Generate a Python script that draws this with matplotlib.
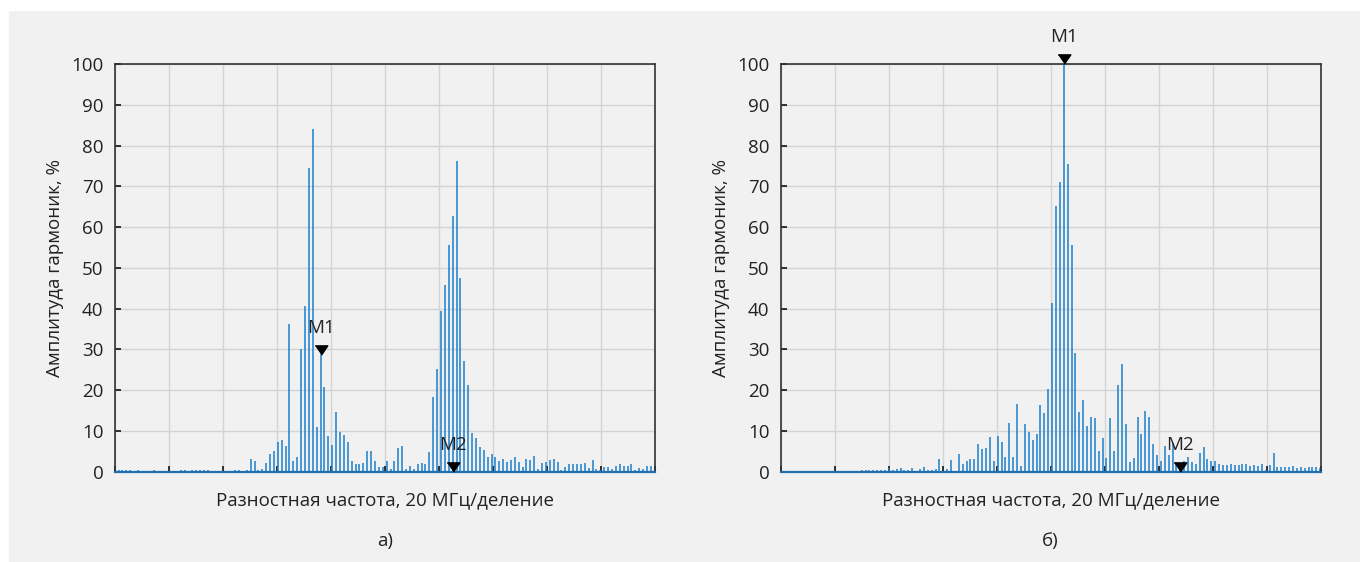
import numpy as np
import matplotlib
matplotlib.use('Agg')
import matplotlib.pyplot as plt
from matplotlib.transforms import offset_copy

# амплитуды гармоник, % (по номеру линии спектра), рисунок а)
amp_a = [0.1, 0.4, 0.4, 0.4, 0.4, 0.1, 0.4, 0.1, 0.1, 0.1,
         0.4, 0.1, 0.1, 0.1, 0.1, 0.1, 0.1, 0.4, 0.4, 0.1,
         0.4, 0.4, 0.4, 0.4, 0.4, 0.1, 0.1, 0.1, 0.1, 0.1,
         0.1, 0.4, 0.4, 0.1, 0.5, 3.1, 2.7, 0.4, 0.7, 2.1,
         4.4, 5.1, 7.3, 7.8, 6.3, 36.2, 2.6, 3.6, 30.2, 40.7,
         74.5, 84.0, 11.0, 28.8, 20.7, 8.8, 6.5, 14.6, 9.8, 8.9,
         7.4, 2.6, 2.0, 2.0, 2.2, 5.1, 5.1, 2.5, 1.1, 1.1,
         2.6, 0.7, 2.6, 5.7, 6.3, 0.7, 1.5, 0.7, 1.8, 2.2,
         1.9, 4.9, 18.4, 25.1, 39.3, 45.7, 55.5, 62.8, 76.1, 47.5,
         27.1, 21.2, 9.6, 8.3, 6.0, 5.3, 3.7, 4.3, 3.7, 2.6,
         3.1, 2.3, 2.9, 3.5, 2.3, 1.2, 3.1, 2.9, 3.8, 0.7,
         2.1, 2.3, 2.9, 3.1, 2.3, 0.4, 1.2, 1.9, 1.9, 1.8,
         2.0, 2.2, 0.8, 2.9, 0.7, 0.5, 1.2, 1.2, 0.7, 1.5,
         1.8, 1.5, 1.5, 1.8, 0.4, 0.8, 0.7, 1.5, 1.5, 1.3]

# рисунок б)
amp_b = [0.1, 0.1, 0.1, 0.1, 0.1, 0.1, 0.1, 0.1, 0.1, 0.1,
         0.1, 0.1, 0.1, 0.1, 0.2, 0.1, 0.2, 0.1, 0.1, 0.1,
         0.3, 0.3, 0.4, 0.4, 0.5, 0.4, 0.5, 0.8, 0.3, 0.7,
         1.0, 0.5, 0.4, 0.9, 0.2, 0.6, 1.1, 0.3, 0.3, 0.6,
         3.1, 0.2, 0.7, 2.9, 0.2, 4.4, 2.0, 2.5, 3.1, 3.1,
         6.8, 5.6, 5.7, 8.5, 2.5, 8.8, 7.4, 3.5, 11.9, 3.5,
         16.7, 1.4, 11.8, 9.8, 7.8, 9.3, 16.3, 14.3, 20.4, 41.5,
         65.2, 71.0, 100.0, 75.5, 55.7, 29.0, 14.7, 17.6, 11.3, 13.4,
         13.1, 5.1, 8.3, 3.3, 13.1, 5.1, 21.3, 26.3, 11.6, 2.3,
         3.3, 13.4, 9.2, 15.0, 13.4, 6.9, 4.1, 2.5, 6.3, 4.1,
         7.0, 2.0, 1.0, 2.5, 3.5, 2.3, 2.0, 4.7, 6.0, 3.1,
         2.7, 2.5, 2.0, 1.6, 1.6, 2.0, 1.6, 1.6, 2.0, 2.0,
         1.4, 1.6, 1.4, 2.0, 0.5, 1.6, 4.7, 1.2, 1.2, 1.2,
         1.2, 1.5, 0.9, 1.1, 0.9, 1.1, 1.1, 1.1, 1.0]

# маркеры: (подпись, номер линии, уровень)
markers_a = [('M1', 53, 28.8), ('M2', 87, 0.0)]
markers_b = [('M1', 72, 100.0), ('M2', 102, 0.0)]

captions = ['а)', 'б)']
ylabel = 'Амплитуда гармоник, %'
xlabel = 'Разностная частота, 20 МГц/деление'

plt.rcParams['font.family'] = ['Open Sans', 'DejaVu Sans']

BG = '#f1f1f1'
LINE = '#1a7fcc'
TXT = '#222222'
FS = 13.5

fig = plt.figure(figsize=(13.6, 5.62), dpi=100)
fig.patch.set_facecolor('white')
fig.add_artist(plt.Rectangle((9 / 1360, 0), 1, 551 / 562, transform=fig.transFigure,
                             facecolor=BG, edgecolor='none', zorder=0))

step = 10 / 139
tri = [(-1, 0.73), (1, 0.73), (0, -0.73)]

panels = [(0.0843, amp_a, 0.0, markers_a), (0.5739, amp_b, 0.9, markers_b)]
for k, (left, amp, off, marks) in enumerate(panels):
    ax = fig.add_axes([left, 0.1607, 0.3971, 0.7254])
    ax.set_facecolor(BG)
    x = (np.arange(len(amp)) + off) * step
    ax.vlines(x, 0, amp, colors=LINE, lw=1.1, zorder=2)
    ax.axhline(0, color='#1f6fb0', lw=1.6, zorder=3, clip_on=False)

    ax.set_xlim(0, 10)
    ax.set_ylim(0, 100)
    ax.set_xticks(range(11))
    ax.set_xticklabels([])
    ax.set_yticks(range(0, 101, 10))
    ax.tick_params(direction='in', length=4, width=1.2, colors='#111111',
                   labelcolor=TXT, labelsize=FS, pad=8)
    ax.grid(True, color='#d3d3d3', lw=1.0)
    ax.set_axisbelow(True)
    for s in ax.spines.values():
        s.set_color('#333333')
        s.set_linewidth(1.2)

    trans = offset_copy(ax.transData, fig=fig, y=4.6, units='dots')
    for name, idx, lev in marks:
        mx = (idx + off) * step
        ax.plot([mx], [lev], marker=tri, ms=9.1, color='black', ls='none',
                transform=trans, clip_on=False, zorder=6)
        ax.annotate(name, xy=(mx, lev), xytext=(0, 26.6 / 1.389), textcoords='offset points',
                    ha='center', va='center', fontsize=FS, color=TXT, zorder=6,
                    annotation_clip=False)

    ax.text(-0.1106, 0.5, ylabel, transform=ax.transAxes, rotation=90,
            ha='center', va='center', fontsize=FS, color=TXT)
    ax.text(0.5, -0.0694, xlabel, transform=ax.transAxes,
            ha='center', va='center', fontsize=FS, color=TXT)
    ax.text(0.5, -0.17, captions[k], transform=ax.transAxes,
            ha='center', va='center', fontsize=FS, color=TXT)

fig.savefig('out.png', dpi=100, facecolor=fig.get_facecolor())
